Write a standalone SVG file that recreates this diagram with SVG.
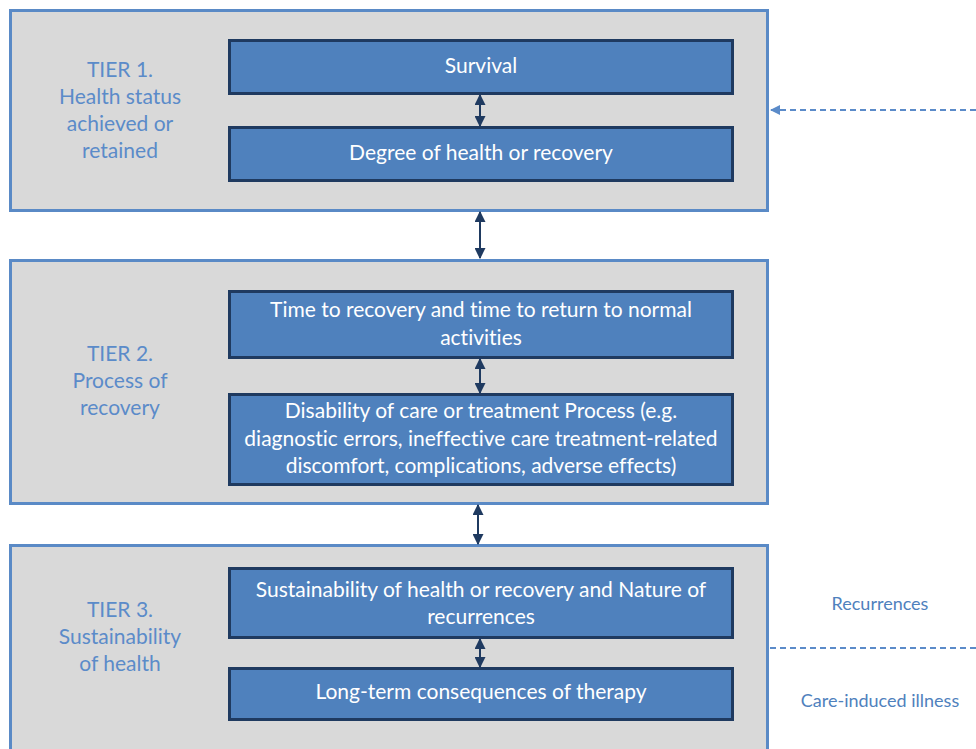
<svg xmlns="http://www.w3.org/2000/svg" width="976" height="749" viewBox="0 0 976 749">
  <style>
    text { font-variant-ligatures: none; }
    .tier { fill: #D9D9D9; stroke: #5A8AC6; stroke-width: 3; }
    .box { fill: #4F81BD; stroke: #1F3A60; stroke-width: 3; }
    .label { font-family: Lato, "Liberation Sans", sans-serif; font-size: 21px; fill: #5B8BC9; text-anchor: middle; }
    .btxt { font-family: Lato, "Liberation Sans", sans-serif; font-size: 21px; fill: #FFFFFF; text-anchor: middle; }
    .side { font-family: Lato, "Liberation Sans", sans-serif; font-size: 18px; fill: #4F81BD; text-anchor: middle; }
    .link { stroke: #1F3A60; stroke-width: 2; fill: none; }
    .dash { stroke: #5B8BC9; stroke-width: 2; stroke-dasharray: 6 4; fill: none; }
  </style>
  <defs>
    <marker id="ah" viewBox="0 0 10 10" refX="9" refY="5" markerWidth="5.5" markerHeight="5.5" orient="auto-start-reverse">
      <path d="M0,0 L10,5 L0,10 z" fill="#1F3A60"/>
    </marker>
    <marker id="ahb" viewBox="0 0 10 10" refX="9" refY="5" markerWidth="5" markerHeight="5" orient="auto">
      <path d="M0,0 L10,5 L0,10 z" fill="#5B8BC9"/>
    </marker>
  </defs>

  <rect width="976" height="749" fill="#FFFFFF"/>

  <!-- Tier 1 -->
  <g id="tier1">
    <rect class="tier" x="10.5" y="10.5" width="757" height="200"/>
    <text class="label" x="120" y="77">TIER 1.</text>
    <text class="label" x="120" y="104">Health status</text>
    <text class="label" x="120" y="131">achieved or</text>
    <text class="label" x="120" y="158">retained</text>
  </g>
  <g id="survival">
    <rect class="box" x="229.5" y="40.5" width="503" height="53"/>
    <text class="btxt" x="481" y="73">Survival</text>
  </g>
  <g id="degree">
    <rect class="box" x="229.5" y="127.5" width="503" height="53"/>
    <text class="btxt" x="481" y="160">Degree of health or recovery</text>
  </g>

  <!-- Tier 2 -->
  <g id="tier2">
    <rect class="tier" x="10.5" y="260.5" width="757" height="243"/>
    <text class="label" x="120" y="361">TIER 2.</text>
    <text class="label" x="120" y="388">Process of</text>
    <text class="label" x="120" y="415">recovery</text>
  </g>
  <g id="time">
    <rect class="box" x="229.5" y="291.5" width="503" height="66"/>
    <text class="btxt" x="481" y="317">Time to recovery and time to return to normal</text>
    <text class="btxt" x="481" y="345">activities</text>
  </g>
  <g id="disability">
    <rect class="box" x="229.5" y="394.5" width="503" height="90"/>
    <text class="btxt" x="481" y="418">Disability of care or treatment Process (e.g.</text>
    <text class="btxt" x="481" y="446">diagnostic errors, ineffective care treatment-related</text>
    <text class="btxt" x="481" y="473">discomfort, complications, adverse effects)</text>
  </g>

  <!-- Tier 3 -->
  <g id="tier3">
    <rect class="tier" x="10.5" y="545.5" width="757" height="220"/>
    <text class="label" x="120" y="617">TIER 3.</text>
    <text class="label" x="120" y="644">Sustainability</text>
    <text class="label" x="120" y="671">of health</text>
  </g>
  <g id="sustain">
    <rect class="box" x="229.5" y="568.5" width="503" height="69"/>
    <text class="btxt" x="481" y="597">Sustainability of health or recovery and Nature of</text>
    <text class="btxt" x="481" y="624">recurrences</text>
  </g>
  <g id="longterm">
    <rect class="box" x="229.5" y="668.5" width="503" height="51"/>
    <text class="btxt" x="481" y="699">Long-term consequences of therapy</text>
  </g>

  <!-- Side labels -->
  <g id="recurrences">
    <text class="side" x="880" y="610">Recurrences</text>
  </g>
  <g id="care-induced">
    <text class="side" x="880" y="707">Care-induced illness</text>
  </g>

  <!-- Connectors -->
  <g id="connectors">
    <line class="link" x1="480" y1="95" x2="480" y2="126" marker-start="url(#ah)" marker-end="url(#ah)"/>
    <line class="link" x1="480" y1="212" x2="480" y2="258" marker-start="url(#ah)" marker-end="url(#ah)"/>
    <line class="link" x1="480" y1="359" x2="480" y2="393" marker-start="url(#ah)" marker-end="url(#ah)"/>
    <line class="link" x1="478" y1="505" x2="478" y2="544" marker-start="url(#ah)" marker-end="url(#ah)"/>
    <line class="link" x1="480" y1="639" x2="480" y2="667" marker-start="url(#ah)" marker-end="url(#ah)"/>
    <line class="dash" x1="976" y1="110" x2="771" y2="110" marker-end="url(#ahb)"/>
    <line class="dash" x1="770" y1="648" x2="976" y2="648"/>
  </g>
</svg>
